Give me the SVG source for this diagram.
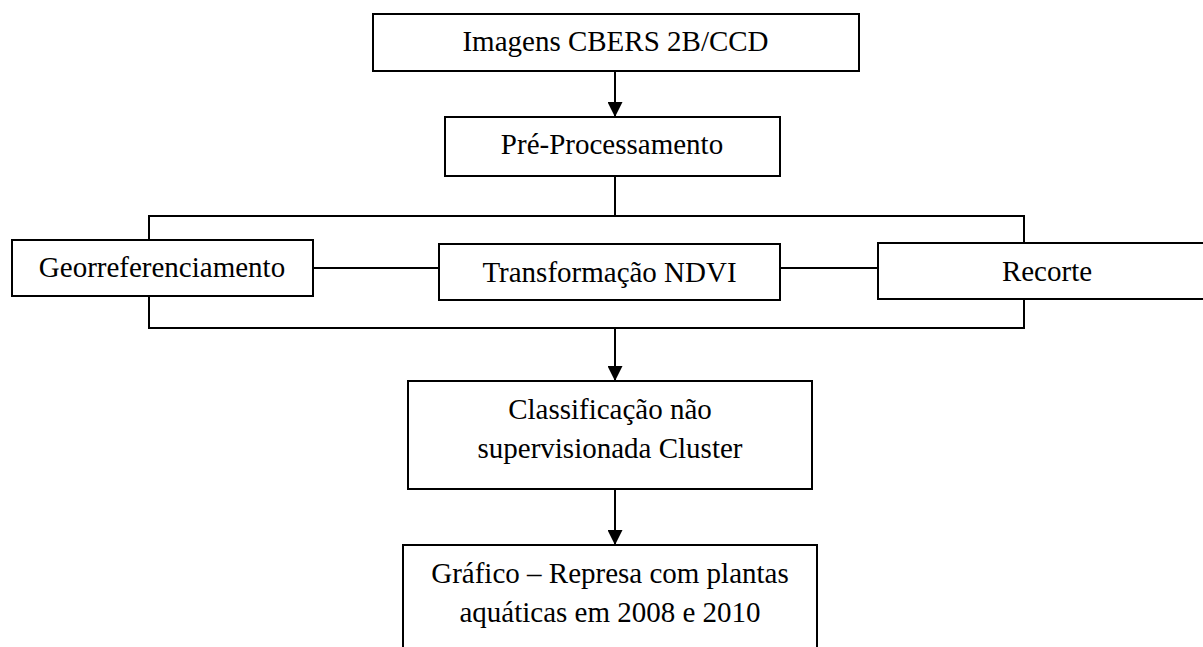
<svg xmlns="http://www.w3.org/2000/svg" width="1203" height="647" viewBox="0 0 1203 647">
<style>
.box{fill:#fff;stroke:#000;stroke-width:2}
.lbl{font-family:"Liberation Serif","Times New Roman",serif;font-size:29px;fill:#000;text-anchor:middle}
.con{fill:none;stroke:#000;stroke-width:2}
</style>
<defs>
<marker id="ah" viewBox="0 0 15 15" refX="15" refY="7.5" markerWidth="15" markerHeight="15" markerUnits="userSpaceOnUse" orient="auto">
<path d="M0,0 L15,7.5 L0,15 z" fill="#000"/>
</marker>
</defs>
<rect width="1203" height="647" fill="#fff"/>
<g id="connectors">
<line class="con" x1="615" y1="71" x2="615" y2="117" marker-end="url(#ah)"/>
<line class="con" x1="615" y1="176" x2="615" y2="216"/>
<polyline class="con" points="149,240 149,216 1024,216 1024,243"/>
<line class="con" x1="313" y1="268" x2="439" y2="268"/>
<line class="con" x1="780" y1="268" x2="878" y2="268"/>
<polyline class="con" points="149,296 149,328 1024,328 1024,299"/>
<line class="con" x1="615" y1="328" x2="615" y2="381" marker-end="url(#ah)"/>
<line class="con" x1="615" y1="489" x2="615" y2="545" marker-end="url(#ah)"/>
</g>
<g id="n1">
<rect class="box" x="373" y="14" width="486" height="57"/>
<text class="lbl" x="615.5" y="51">Imagens CBERS 2B/CCD</text>
</g>
<g id="n2">
<rect class="box" x="445" y="117" width="335" height="59"/>
<text class="lbl" x="612" y="154">Pré-Processamento</text>
</g>
<g id="n3">
<rect class="box" x="12" y="240" width="301" height="56"/>
<text class="lbl" x="162" y="277">Georreferenciamento</text>
</g>
<g id="n4">
<rect class="box" x="439" y="244" width="341" height="56"/>
<text class="lbl" x="609.5" y="282">Transformação NDVI</text>
</g>
<g id="n5">
<rect class="box" x="878" y="243" width="340" height="56"/>
<text class="lbl" x="1047" y="281">Recorte</text>
</g>
<g id="n6">
<rect class="box" x="408" y="381" width="404" height="108"/>
<text class="lbl" x="610" y="419">Classificação não</text>
<text class="lbl" x="610" y="458">supervisionada Cluster</text>
</g>
<g id="n7">
<rect class="box" x="403" y="545" width="414" height="130"/>
<text class="lbl" x="610" y="583">Gráfico – Represa com plantas</text>
<text class="lbl" x="610" y="622">aquáticas em 2008 e 2010</text>
</g>
</svg>
